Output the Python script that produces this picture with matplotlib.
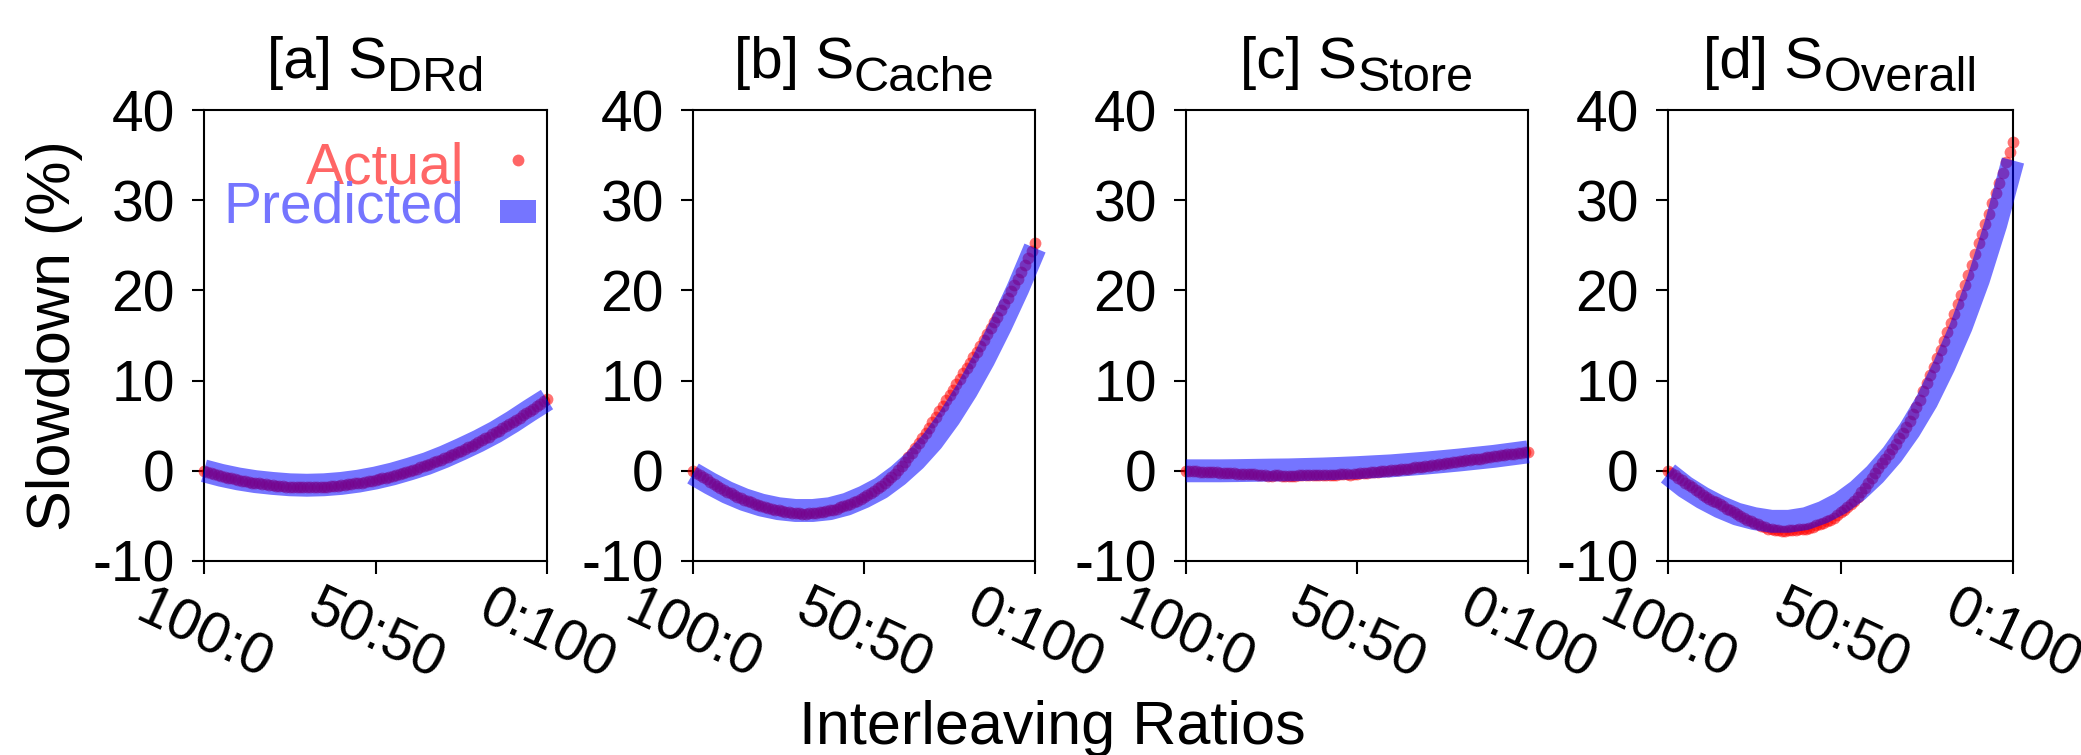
import matplotlib
matplotlib.use('Agg')
import matplotlib.pyplot as plt
from matplotlib.patches import Rectangle
from matplotlib.transforms import offset_copy

plt.rcParams['font.family'] = ['Liberation Sans', 'DejaVu Sans']
plt.rcParams['axes.unicode_minus'] = False

# x = share of memory on the second tier (100:0 -> 0:100), one measurement per percent
ratio_actual = list(range(0, 101))
ratio_pred = [0, 5, 10, 15, 20, 25, 30, 35, 40, 45, 50, 55, 60, 65, 70, 75, 80,
              85, 90, 95, 100]

drd_actual = [0.0, -0.1, -0.25, -0.35, -0.45, -0.55, -0.65, -0.75, -0.85, -0.9,
              -1.0, -1.1, -1.15, -1.2, -1.3, -1.35, -1.4, -1.45, -1.5, -1.55,
              -1.6, -1.65, -1.65, -1.7, -1.75, -1.75, -1.75, -1.8, -1.8, -1.8,
              -1.8, -1.8, -1.8, -1.8, -1.75, -1.75, -1.75, -1.7, -1.65, -1.65,
              -1.6, -1.55, -1.5, -1.45, -1.4, -1.35, -1.3, -1.2, -1.15, -1.1,
              -1.0, -0.9, -0.85, -0.75, -0.65, -0.55, -0.45, -0.35, -0.25, -0.1,
              0.0, 0.1, 0.25, 0.4, 0.5, 0.65, 0.8, 0.95, 1.1, 1.25,
              1.4, 1.55, 1.75, 1.9, 2.05, 2.25, 2.45, 2.6, 2.8, 3.0,
              3.2, 3.4, 3.6, 3.8, 4.05, 4.25, 4.45, 4.7, 4.95, 5.15,
              5.4, 5.65, 5.9, 6.15, 6.4, 6.65, 6.9, 7.2, 7.45, 7.7, 8.0]
drd_pred = [0.0, -0.5, -0.9, -1.2, -1.4, -1.55, -1.6, -1.55, -1.4, -1.15, -0.8,
            -0.35, 0.2, 0.8, 1.55, 2.4, 3.3, 4.3, 5.45, 6.7, 7.9]

cache_actual = [0.0, -0.25, -0.5, -0.7, -0.95, -1.2, -1.45, -1.7, -1.9, -2.1,
                -2.3, -2.5, -2.7, -2.85, -3.05, -3.2, -3.35, -3.5, -3.65, -3.8,
                -3.9, -4.0, -4.15, -4.25, -4.35, -4.4, -4.5, -4.55, -4.6, -4.65,
                -4.7, -4.7, -4.75, -4.75, -4.7, -4.7, -4.65, -4.6, -4.55, -4.5,
                -4.4, -4.3, -4.2, -4.05, -3.95, -3.8, -3.65, -3.5, -3.3, -3.1,
                -2.9, -2.7, -2.5, -2.2, -1.95, -1.65, -1.35, -1.0, -0.65, -0.3,
                0.1, 0.55, 1.0, 1.5, 2.0, 2.5, 3.05, 3.6, 4.2, 4.8,
                5.4, 6.0, 6.6, 7.2, 7.8, 8.4, 9.0, 9.6, 10.2, 10.8,
                11.4, 12.0, 12.6, 13.2, 13.85, 14.5, 15.15, 15.8, 16.45, 17.1,
                17.8, 18.5, 19.2, 19.9, 20.6, 21.3, 22.05, 22.8, 23.6, 24.4, 25.2]
cache_pred = [-0.3, -1.4, -2.4, -3.2, -3.8, -4.2, -4.4, -4.4, -4.2, -3.7, -2.9,
              -1.9, -0.5, 1.2, 3.3, 5.9, 8.9, 12.3, 16.1, 20.2, 24.7]

store_actual = [0.0, -0.02, -0.04, -0.06, -0.08, -0.1, -0.12, -0.14, -0.16, -0.18,
                -0.2, -0.22, -0.24, -0.26, -0.28, -0.3, -0.32, -0.34, -0.36, -0.38,
                -0.4, -0.42, -0.44, -0.46, -0.55, -0.6, -0.5, -0.52, -0.53, -0.54,
                -0.55, -0.54, -0.53, -0.52, -0.51, -0.5, -0.5, -0.5, -0.49, -0.48,
                -0.47, -0.46, -0.45, -0.44, -0.42, -0.4, -0.38, -0.36, -0.5, -0.32,
                -0.3, -0.27, -0.24, -0.21, -0.18, -0.15, -0.11, -0.07, -0.03, 0.01,
                0.05, 0.09, 0.13, 0.17, 0.21, 0.25, 0.31, 0.37, 0.42, 0.46,
                0.5, 0.56, 0.62, 0.68, 0.74, 0.8, 0.84, 0.88, 0.94, 1.0,
                1.05, 1.11, 1.17, 1.22, 1.26, 1.3, 1.36, 1.42, 1.48, 1.54,
                1.6, 1.66, 1.72, 1.77, 1.81, 1.85, 1.91, 1.97, 2.02, 2.06, 2.1]
store_pred = [0.0, 0.0, 0.0, 0.02, 0.05, 0.08, 0.1, 0.15, 0.2, 0.27, 0.35, 0.45,
              0.55, 0.7, 0.85, 1.02, 1.2, 1.4, 1.6, 1.85, 2.1]

overall_actual = [0.0, -0.25, -0.5, -0.75, -1.0, -1.3, -1.6, -1.85, -2.15, -2.4,
                  -2.7, -2.9, -3.1, -3.3, -3.5, -3.7, -3.95, -4.2, -4.4, -4.6,
                  -4.8, -5.0, -5.2, -5.4, -5.6, -5.8, -5.95, -6.1, -6.25, -6.4,
                  -6.5, -6.55, -6.6, -6.62, -6.62, -6.6, -6.56, -6.52, -6.48, -6.44,
                  -6.4, -6.3, -6.2, -6.05, -5.95, -5.8, -5.6, -5.4, -5.2, -4.9,
                  -4.6, -4.3, -4.0, -3.65, -3.3, -2.9, -2.4, -1.9, -1.35, -0.8,
                  -0.2, 0.3, 0.85, 1.35, 1.9, 2.4, 3.0, 3.6, 4.2, 4.85,
                  5.5, 6.3, 7.1, 7.9, 8.8, 9.7, 10.6, 11.5, 12.5, 13.4,
                  14.4, 15.4, 16.4, 17.4, 18.45, 19.5, 20.6, 21.7, 22.8, 24.0,
                  25.2, 26.3, 27.4, 28.5, 29.7, 30.8, 31.9, 33.0, 34.2, 35.3, 36.5]
overall_pred = [-0.3, -1.8, -3.0, -4.0, -4.8, -5.3, -5.6, -5.6, -5.3, -4.6, -3.6,
                -2.2, -0.4, 1.8, 4.5, 7.7, 11.6, 16.0, 21.2, 27.3, 34.4]

panel_tags = ['[a] S', '[b] S', '[c] S', '[d] S']
panel_subs = ['DRd', 'Cache', 'Store', 'Overall']
actual_series = [drd_actual, cache_actual, store_actual, overall_actual]
pred_series = [drd_pred, cache_pred, store_pred, overall_pred]

xtick_pos = [0, 50, 100]
xtick_labels = ['100:0', '50:50', '0:100']
ytick_pos = [-10, 0, 10, 20, 30, 40]

W, H = 2081, 755
fig = plt.figure(figsize=(W / 100, H / 100), dpi=100)
renderer = fig.canvas.get_renderer()

lefts = [204, 693, 1186, 1668]
widths = [343, 342, 342, 345]
top_px, bot_px = 110, 561

red = (1.0, 0.0, 0.0)
blue = (0.0, 0.0, 1.0)

for i in range(4):
    ax = fig.add_axes([lefts[i] / W, 1 - bot_px / H, widths[i] / W, (bot_px - top_px) / H])
    ax.plot(ratio_actual, actual_series[i], 'o', ms=8.5, color=red, alpha=0.55,
            mec='none', clip_on=False, zorder=2)
    ax.plot(ratio_pred, pred_series[i], '-', lw=16.5, color=blue, alpha=0.54,
            solid_capstyle='butt', solid_joinstyle='round', clip_on=False, zorder=3)

    ax.set_xlim(0, 100)
    ax.set_ylim(-10, 40)
    ax.set_xticks(xtick_pos)
    ax.set_xticklabels(xtick_labels, rotation=-25, ha='center')
    ax.set_yticks(ytick_pos)
    ax.tick_params(axis='both', direction='out', length=9, width=1.5,
                   labelsize=41, top=False, right=False)
    ax.tick_params(axis='y', pad=12)
    ax.tick_params(axis='x', pad=6)
    for sp in ax.spines.values():
        sp.set_linewidth(1.5)

    # title: big "S" with a large, dropped subscript
    t1 = ax.text(0.5, 1.07, panel_tags[i], transform=ax.transAxes, fontsize=42,
                 ha='left', va='baseline')
    t2 = ax.text(0.5, 1.07, panel_subs[i], transform=ax.transAxes, fontsize=35,
                 ha='left', va='baseline')
    w1 = t1.get_window_extent(renderer).width
    w2 = t2.get_window_extent(renderer).width
    shift = -(w1 + w2) / 2
    t1.set_transform(offset_copy(ax.transAxes, fig=fig, x=shift, y=0, units='dots'))
    t2.set_transform(offset_copy(ax.transAxes, fig=fig, x=shift + w1, y=-12.5, units='dots'))

    if i == 0:
        ax.text(0.758, 0.837, 'Actual', transform=ax.transAxes, fontsize=41,
                ha='right', va='baseline', color=(1.0, 0.4, 0.4))
        ax.text(0.758, 0.750, 'Predicted', transform=ax.transAxes, fontsize=41,
                ha='right', va='baseline', color=(0.46, 0.46, 1.0))
        ax.plot([0.915], [0.889], 'o', ms=8.5, color=red, alpha=0.6, mec='none',
                transform=ax.transAxes)
        ax.add_patch(Rectangle((0.863, 0.749), 0.105, 0.051, transform=ax.transAxes,
                               color=blue, alpha=0.54, lw=0))

fig.text(55 / W, 1 - 336 / H, 'Slowdown (%)', rotation=90, ha='center',
         va='center', fontsize=44)
fig.text(1052 / W, 11 / H, 'Interleaving Ratios', ha='center', va='baseline',
         fontsize=44)

fig.savefig('out.png', dpi=100)
